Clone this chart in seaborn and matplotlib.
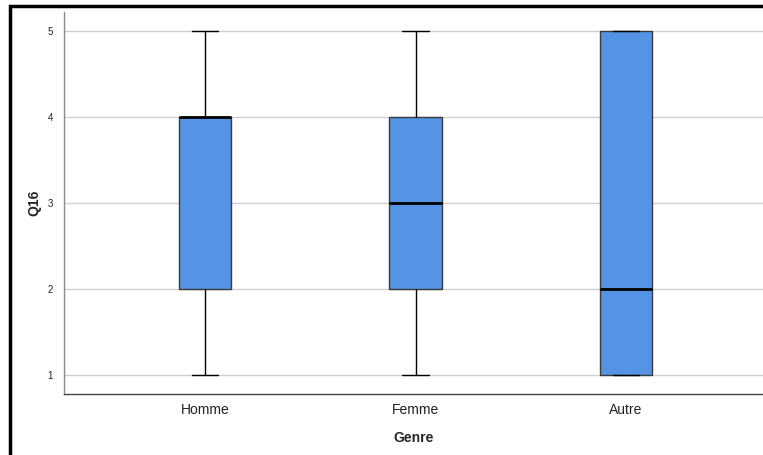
import matplotlib
matplotlib.use("Agg")
import matplotlib.pyplot as plt
import seaborn as sns
import pandas as pd
from matplotlib.patches import Rectangle

# Five-number summaries (min, Q1, median, Q3, max),
# used as the raw responses of each group
genres = ["Homme", "Femme", "Autre"]
homme = [1, 2, 4, 4, 5]
femme = [1, 2, 3, 4, 5]
autre = [1, 1, 2, 5, 5]
y_ticks = [1, 2, 3, 4, 5]

df = pd.DataFrame({
    "Genre": ["Homme"] * len(homme) + ["Femme"] * len(femme) + ["Autre"] * len(autre),
    "Q16": homme + femme + autre,
})

sns.set_style("white")
plt.rcParams["font.family"] = ["Liberation Sans", "DejaVu Sans"]

fig = plt.figure(figsize=(7.63, 4.55), dpi=100)
ax = fig.add_axes([64 / 763, 1 - 394 / 455, 1 - 64 / 763, (394 - 12) / 455])

sns.boxplot(
    data=df, x="Genre", y="Q16", order=genres, ax=ax,
    color="#5594E4", saturation=1, width=0.25, whis=1.5,
    linecolor="#2b2b2b", linewidth=1,
    medianprops=dict(color="black", linewidth=2),
    whiskerprops=dict(color="black", linewidth=1),
    capprops=dict(color="black", linewidth=1),
    boxprops=dict(edgecolor="#3a3a3a", linewidth=1),
    showfliers=False,
)

ax.set_xlim(-0.67, 2.65)
ax.set_ylim(1 - 19 / 86, 5 + 19 / 86)
ax.set_yticks(y_ticks)
ax.set_yticklabels([str(v) for v in y_ticks], fontsize=7)
ax.tick_params(axis="x", labelsize=10, length=0, pad=6.5, colors="#222222")
ax.tick_params(axis="y", length=0, pad=8, colors="#222222")
ax.yaxis.grid(True, color="#cfcfcf", linewidth=1)
ax.xaxis.grid(False)
ax.set_axisbelow(True)

for side in ["top", "right"]:
    ax.spines[side].set_visible(False)
ax.spines["left"].set_color("#8a8a8a")
ax.spines["left"].set_linewidth(1)
ax.spines["bottom"].set_color("#444444")
ax.spines["bottom"].set_linewidth(1)

ax.set_xlabel("Genre", fontsize=10, fontweight="bold", labelpad=10)
ax.set_ylabel("Q16", fontsize=10, fontweight="bold", labelpad=4.5)

# Outer frame (screenshot border)
fig.patches.append(Rectangle((10 / 763, -0.1), 1.2, 1.1 - 6 / 455,
                             transform=fig.transFigure, fill=False,
                             edgecolor="black", linewidth=2.5, zorder=10))

fig.savefig("out.png", dpi=100)
